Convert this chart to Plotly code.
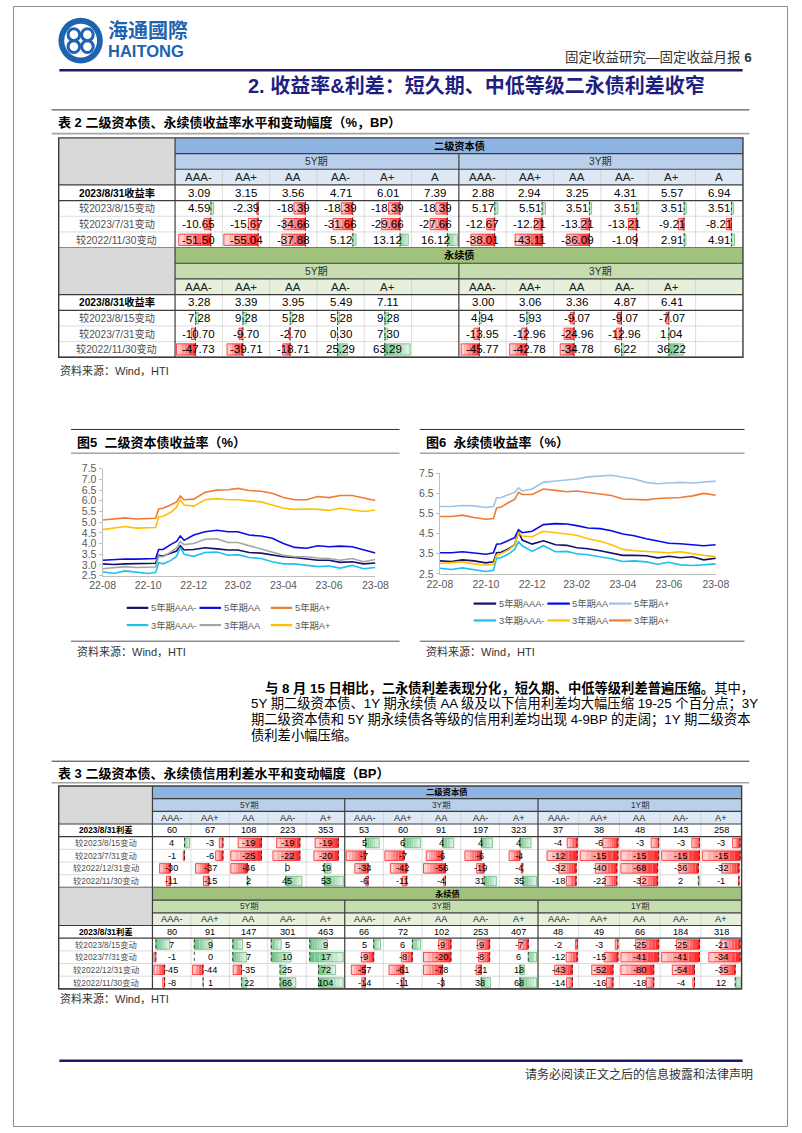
import plotly.graph_objects as go

W, H = 802, 1133
FONT = "Liberation Sans, Arial, Noto Sans CJK SC, sans-serif"

# ------------------------------------------------------------------ chart data
DATES = ["2022-08-31", "2022-09-15", "2022-09-30", "2022-10-15", "2022-10-31",
         "2022-11-10", "2022-11-14", "2022-11-20", "2022-11-30", "2022-12-08",
         "2022-12-13", "2022-12-18", "2022-12-31", "2023-01-15", "2023-01-31",
         "2023-02-15", "2023-02-28", "2023-03-15", "2023-03-31", "2023-04-15",
         "2023-04-30", "2023-05-15", "2023-05-31", "2023-06-15", "2023-06-30",
         "2023-07-15", "2023-07-31", "2023-08-15", "2023-08-31"]
TICK_DATES = ["2022-08-31", "2022-10-31", "2022-12-31", "2023-02-28",
              "2023-04-30", "2023-06-30", "2023-08-31"]
TICK_TEXT = ["22-08", "22-10", "22-12", "23-02", "23-04", "23-06", "23-08"]

SERIES_NAMES = ["5年期AAA-", "5年期AA", "5年期A+", "3年期AAA-", "3年期AA", "3年期A+"]

# Fig 5: tier-2 capital bond yields (%)
F5_5Y_AAA = [3.05, 3.02, 3.05, 3.05, 3.05, 3.08, 3.45, 3.42, 3.55, 3.65, 3.90, 3.70, 3.72, 3.80, 3.75,
             3.70, 3.70, 3.58, 3.55, 3.45, 3.38, 3.35, 3.30, 3.22, 3.22, 3.12, 3.15, 3.05, 3.09]
F5_5Y_AA = [3.22, 3.25, 3.28, 3.27, 3.28, 3.30, 3.72, 3.72, 3.95, 4.10, 4.35, 4.15, 4.40, 4.55, 4.62,
            4.55, 4.55, 4.40, 4.35, 4.25, 4.00, 3.82, 3.78, 3.90, 3.85, 3.88, 3.85, 3.70, 3.56]
F5_5Y_AP = [5.10, 5.15, 5.20, 5.15, 5.15, 5.18, 5.62, 5.65, 5.80, 5.95, 6.22, 6.05, 6.08, 6.40, 6.50,
            6.52, 6.58, 6.48, 6.45, 6.35, 6.15, 6.05, 6.05, 6.20, 6.15, 6.25, 6.25, 6.12, 6.01]
F5_3Y_AAA = [2.68, 2.60, 2.72, 2.65, 2.60, 2.65, 3.10, 3.05, 3.20, 3.40, 3.82, 3.50, 3.40, 3.58, 3.60,
             3.45, 3.48, 3.35, 3.30, 3.15, 3.05, 3.05, 3.00, 2.92, 2.95, 2.85, 2.98, 2.82, 2.88]
F5_3Y_AA = [2.82, 2.88, 2.92, 2.88, 2.88, 2.90, 3.40, 3.38, 3.60, 3.80, 4.10, 3.95, 4.00, 4.20, 4.22,
            4.05, 4.05, 3.90, 3.75, 3.60, 3.45, 3.38, 3.38, 3.32, 3.30, 3.22, 3.30, 3.15, 3.25]
F5_3Y_AP = [4.65, 4.72, 4.80, 4.72, 4.72, 4.75, 5.25, 5.28, 5.45, 5.70, 6.05, 5.80, 5.75, 6.05, 6.10,
            6.05, 6.05, 6.00, 5.95, 5.80, 5.65, 5.60, 5.62, 5.60, 5.55, 5.65, 5.58, 5.50, 5.57]

# Fig 6: perpetual bond yields (%)
F6_5Y_AAA = [3.15, 3.12, 3.20, 3.15, 3.05, 3.10, 3.55, 3.58, 3.75, 3.95, 4.60, 4.18, 3.98, 4.15, 3.95,
             3.92, 3.80, 3.75, 3.65, 3.55, 3.42, 3.42, 3.40, 3.30, 3.38, 3.30, 3.35, 3.20, 3.28]
F6_5Y_AA = [3.55, 3.55, 3.60, 3.55, 3.48, 3.55, 3.98, 4.00, 4.15, 4.30, 4.70, 4.55, 4.62, 4.95, 5.00,
            4.98, 4.90, 4.78, 4.75, 4.65, 4.48, 4.40, 4.25, 4.12, 4.02, 4.00, 3.95, 3.90, 3.95]
F6_5Y_AP = [5.85, 5.85, 5.90, 5.88, 5.80, 5.85, 6.28, 6.30, 6.45, 6.55, 6.78, 6.62, 6.72, 7.05, 7.12,
            7.18, 7.22, 7.32, 7.35, 7.40, 7.30, 7.22, 7.05, 6.98, 7.02, 7.05, 7.02, 7.05, 7.11]
F6_3Y_AAA = [2.78, 2.72, 2.80, 2.72, 2.62, 2.68, 3.28, 3.30, 3.50, 3.72, 4.10, 3.90, 3.62, 3.90, 3.60,
             3.62, 3.50, 3.45, 3.35, 3.25, 3.12, 3.15, 3.10, 2.98, 3.08, 2.95, 2.92, 2.95, 3.00]
F6_3Y_AA = [3.02, 3.05, 3.10, 3.00, 2.93, 2.98, 3.45, 3.50, 3.70, 3.95, 4.55, 4.38, 4.35, 4.62, 4.55,
            4.45, 4.42, 4.25, 4.12, 3.95, 3.72, 3.65, 3.62, 3.60, 3.55, 3.60, 3.50, 3.42, 3.36]
F6_3Y_AP = [5.35, 5.35, 5.42, 5.30, 5.22, 5.25, 5.78, 5.82, 6.05, 6.20, 6.55, 6.45, 6.45, 6.72, 6.65,
            6.58, 6.62, 6.55, 6.50, 6.40, 6.22, 6.20, 6.18, 6.25, 6.28, 6.30, 6.38, 6.50, 6.41]

F5_COLORS = ["#10106e", "#0a0ae6", "#ed7d31", "#1fbff0", "#a5a5a5", "#ffc000"]
F6_COLORS = ["#10106e", "#0a0ae6", "#9dc3e6", "#1fbff0", "#ffc000", "#ed7d31"]

# ------------------------------------------------------------------ table 2 data
T2_GROUPS = ["5Y期", "3Y期"]
T2_GRADES_TIER2 = ["AAA-", "AA+", "AA", "AA-", "A+", "A"]
T2_GRADES_PERP = ["AAA-", "AA+", "AA", "AA-", "A+"]
T2_ROW_LABELS = ["2023/8/31收益率", "较2023/8/15变动", "较2023/7/31变动", "较2022/11/30变动"]
T2_TIER2_5Y = [[3.09, 3.15, 3.56, 4.71, 6.01, 7.39],
               [4.59, -2.39, -18.39, -18.39, -18.39, -18.39],
               [-10.65, -15.67, -34.66, -31.66, -29.66, -27.66],
               [-51.50, -55.04, -37.88, 5.12, 13.12, 16.12]]
T2_TIER2_3Y = [[2.88, 2.94, 3.25, 4.31, 5.57, 6.94],
               [5.17, 5.51, 3.51, 3.51, 3.51, 3.51],
               [-12.67, -12.21, -13.21, -13.21, -9.21, -8.21],
               [-38.01, -43.11, -36.09, -1.09, 2.91, 4.91]]
T2_PERP_5Y = [[3.28, 3.39, 3.95, 5.49, 7.11],
              [7.28, 9.28, 5.28, 5.28, 9.28],
              [-10.70, -9.70, -2.70, 0.30, 7.30],
              [-47.73, -39.71, -18.71, 25.29, 63.29]]
T2_PERP_3Y = [[3.00, 3.06, 3.36, 4.87, 6.41],
              [4.94, 5.93, -9.07, -9.07, -7.07],
              [-13.95, -12.96, -24.96, -12.96, 1.04],
              [-45.77, -42.78, -34.78, 6.22, 36.22]]

# ------------------------------------------------------------------ table 3 data
T3_GROUPS = ["5Y期", "3Y期", "1Y期"]
T3_GRADES = ["AAA-", "AA+", "AA", "AA-", "A+"]
T3_ROW_LABELS = ["2023/8/31利差", "较2023/8/15变动", "较2023/7/31变动", "较2022/12/31变动", "较2022/11/30变动"]
T3_TIER2_5Y = [[60, 67, 108, 223, 353], [4, -3, -19, -19, -19], [-1, -6, -25, -22, -20],
               [-30, -37, -46, 0, 19], [-11, -15, 2, 45, 53]]
T3_TIER2_3Y = [[53, 60, 91, 197, 323], [5, 6, 4, 4, 4], [-7, -7, -6, -6, -4],
               [-34, -42, -56, -19, -4], [-6, -11, -4, 31, 35]]
T3_TIER2_1Y = [[37, 38, 48, 143, 258], [-4, -6, -3, -3, -3], [-12, -15, -15, -15, -15],
               [-32, -40, -68, -36, -32], [-18, -22, -32, 2, -1]]
T3_PERP_5Y = [[80, 91, 147, 301, 463], [7, 9, 5, 5, 9], [-1, 0, 7, 10, 17],
              [-45, -44, -35, 25, 72], [-8, 1, 22, 66, 104]]
T3_PERP_3Y = [[66, 72, 102, 253, 407], [5, 6, -9, -9, -7], [-9, -8, -20, -8, 6],
              [-57, -61, -78, -21, 18], [-14, -11, -3, 38, 68]]
T3_PERP_1Y = [[48, 49, 66, 184, 318], [-2, -3, -25, -25, -21], [-12, -15, -41, -41, -34],
              [-43, -52, -80, -54, -35], [-14, -16, -18, -4, 12]]

# ------------------------------------------------------------------ helpers
shapes, annos = [], []


def X(x):
    return x / W


def Y(y):
    return 1 - y / H


def rect(x0, y0, x1, y1, fill, lc=None, lw=0):
    shapes.append(dict(type="rect", xref="paper", yref="paper", x0=X(x0), x1=X(x1),
                       y0=Y(y1), y1=Y(y0), fillcolor=fill,
                       line=dict(color=lc if lc else "rgba(0,0,0,0)", width=lw)))


def line(x0, y0, x1, y1, color, width=1.0, dash="solid"):
    shapes.append(dict(type="line", xref="paper", yref="paper", x0=X(x0), y0=Y(y0),
                       x1=X(x1), y1=Y(y1), line=dict(color=color, width=width, dash=dash)))


def text(x, y, s, size=11, color="#000000", xanchor="center", yanchor="middle"):
    annos.append(dict(xref="paper", yref="paper", x=X(x), y=Y(y), text=s, showarrow=False,
                      xanchor=xanchor, yanchor=yanchor, borderpad=0,
                      font=dict(size=size, color=color, family=FONT)))


def hx(c):
    c = c.lstrip("#")
    return [int(c[i:i + 2], 16) for i in (0, 2, 4)]


def mix(c1, c2, t):
    a, b = hx(c1), hx(c2)
    return "#%02x%02x%02x" % tuple(int(round(a[i] + (b[i] - a[i]) * t)) for i in range(3))


RED, RED_L = "#ff1f1f", "#ffdede"
GRN, GRN_L = "#63be7b", "#e4f3e8"


def data_bar(cx0, cy0, cx1, cy1, v, lo, hi, pady):
    ix0, ix1 = cx0 + 1.5, cx1 - 1.5
    wi = ix1 - ix0
    ax = ix0 + (-lo) / (hi - lo) * wi
    if v != 0:
        ln = v / (hi - lo) * wi
        strong, light = (RED, RED_L) if v < 0 else (GRN, GRN_L)
        n = 7
        for k in range(n):
            xa = ax + ln * k / n
            xb = ax + ln * (k + 1) / n
            rect(min(xa, xb), cy0 + pady, max(xa, xb), cy1 - pady, mix(strong, light, (k + 0.5) / n))
        rect(min(ax, ax + ln), cy0 + pady, max(ax, ax + ln), cy1 - pady, "rgba(0,0,0,0)", strong, 0.8)
    line(ax, cy0 + 1, ax, cy1 - 1, "#202020", 0.8, "dot")


BLUE = dict(band="#8db3e2", group="#b9cfea", grade="#dde8f4")
GREEN = dict(band="#a0c27c", group="#c6ddb0", grade="#e6f0dc")
GRAY = "#d9d9d9"
DARK, MINOR = "#3c3c3c", "#c4c4c4"


def draw_table(x0, label_w, group_names, group_widths, ncols, y0, row_h, sections,
               fs, fs_lab, fmt, scope, blocks, pady):
    dx0 = x0 + label_w
    dx1 = dx0 + sum(group_widths)
    y = y0
    for sec in sections:
        pal = sec["pal"]
        rows = sec["rows_labels"]
        nrows = 3 + len(rows)
        ye = y + nrows * row_h
        rect(x0, y, dx0, y + 3 * row_h, GRAY)
        rect(dx0, y, dx1, y + row_h, pal["band"])
        text((dx0 + dx1) / 2, y + row_h / 2, "<b>" + sec["name"] + "</b>", fs_lab, "#000000")
        for ri, lab in enumerate(rows):
            yc = y + (3 + ri + 0.5) * row_h
            if ri == 0:
                text((x0 + dx0) / 2, yc, "<b>" + lab + "</b>", fs_lab, "#000000")
            else:
                text((x0 + dx0) / 2, yc, lab, fs_lab, "#505050")
        gx = dx0
        for g, gw in enumerate(group_widths):
            cw = gw / ncols
            rect(gx, y + row_h, gx + gw, y + 2 * row_h, pal["group"])
            text(gx + gw / 2, y + 1.5 * row_h, group_names[g], fs_lab, "#303030")
            rect(gx, y + 2 * row_h, gx + gw, y + 3 * row_h, pal["grade"])
            for c, gr in enumerate(sec["grades"]):
                text(gx + (c + 0.5) * cw, y + 2.5 * row_h, gr, fs, "#202020")
            for ri, rowv in enumerate(sec["data"][g]):
                for c, v in enumerate(rowv):
                    text(gx + (c + 0.5) * cw, y + (3 + ri + 0.5) * row_h, fmt(v), fs, "#000000")
            gx += gw
        # data bars
        for blk in blocks:
            glist = [list(range(len(group_widths)))] if scope == "section" else [[g] for g in range(len(group_widths))]
            for gs in glist:
                vals = [v for g in gs for ri in blk for v in sec["data"][g][ri]]
                lo, hi = min(0, min(vals)), max(0, max(vals))
                for g in gs:
                    gxs = dx0 + sum(group_widths[:g])
                    cw = group_widths[g] / ncols
                    for ri in blk:
                        for c, v in enumerate(sec["data"][g][ri]):
                            cy0 = y + (3 + ri) * row_h
                            data_bar(gxs + c * cw, cy0, gxs + (c + 1) * cw, cy0 + row_h, v, lo, hi, pady)
        # minor lines
        for ri in range(5, nrows):
            line(x0, y + ri * row_h, dx1, y + ri * row_h, MINOR, 0.6)
        gx = dx0
        for g, gw in enumerate(group_widths):
            cw = gw / ncols
            for c in range(1, ncols):
                line(gx + c * cw, y + 2 * row_h, gx + c * cw, ye, MINOR, 0.6)
            gx += gw
        # major lines
        line(dx0, y + row_h, dx1, y + row_h, DARK, 1.2)
        line(dx0, y + 2 * row_h, dx1, y + 2 * row_h, DARK, 1.2)
        line(x0, y + 3 * row_h, dx1, y + 3 * row_h, DARK, 1.2)
        line(x0, y + 4 * row_h, dx1, y + 4 * row_h, DARK, 1.2)
        line(dx0, y, dx0, ye, DARK, 1.2)
        gx = dx0
        for gw in group_widths[:-1]:
            gx += gw
            line(gx, y + row_h, gx, ye, DARK, 1.2)
        line(x0, ye, dx1, ye, DARK, 1.2)
        y = ye
    rect(x0, y0, dx1, y, "rgba(0,0,0,0)", DARK, 1.4)


# ------------------------------------------------------------------ page furniture
rect(0.5, 0.5, 801.5, 1132.5, "rgba(0,0,0,0)", "#8c8c8c", 1)
LOGO = "#1e63b0"
shapes.append(dict(type="circle", xref="paper", yref="paper", x0=X(47), x1=X(93), y0=Y(58), y1=Y(12),
                   fillcolor=LOGO, line=dict(color=LOGO, width=0)))
shapes.append(dict(type="circle", xref="paper", yref="paper", x0=X(53), x1=X(87), y0=Y(52), y1=Y(18),
                   fillcolor="white", line=dict(color="white", width=0)))
for cx, cy in [(63, 29), (77, 29), (63, 41), (77, 41)]:
    shapes.append(dict(type="circle", xref="paper", yref="paper", x0=X(cx - 6), x1=X(cx + 6),
                       y0=Y(cy + 6), y1=Y(cy - 6), fillcolor="rgba(0,0,0,0)",
                       line=dict(color=LOGO, width=3)))
text(97, 25, "<b>海通國際</b>", 20, LOGO, "left")
text(97, 45, "<b>HAITONG</b>", 16.5, LOGO, "left")
text(766, 52, "固定收益研究—固定收益月报 <b>6</b>", 13.5, "#333333", "right")
line(48, 65, 755, 65, "#1c1a6e", 2.6)
text(717, 80, "<b>2. 收益率&利差：短久期、中低等级二永债利差收窄</b>", 20, "#1f1f82", "right")

# table 2
line(40, 105, 762, 105, "#333333", 1)
text(46, 118, "<b>表 2 二级资本债、永续债收益率水平和变动幅度（%，BP）</b>", 13, "#000000", "left")
line(40, 129, 762, 129, "#a6a6a6", 1.6)
draw_table(47.3, 120.4, T2_GROUPS, [293.7, 294.0], 6, 133.3, 15.84,
           [dict(name="二级资本债", pal=BLUE, grades=T2_GRADES_TIER2, rows_labels=T2_ROW_LABELS,
                 data=[T2_TIER2_5Y, T2_TIER2_3Y]),
            dict(name="永续债", pal=GREEN, grades=T2_GRADES_PERP, rows_labels=T2_ROW_LABELS,
                 data=[T2_PERP_5Y, T2_PERP_3Y])],
           11.5, 10.2, lambda v: "%.2f" % v, "section", [[1, 2, 3]], 2.2)
text(48, 368, "资料来源：Wind，HTI", 11, "#333333", "left")

# chart blocks
for (bx0, bx1, ttl) in [(60, 400, "<b>图5  二级资本债收益率（%）</b>"), (421, 757, "<b>图6  永续债收益率（%）</b>")]:
    line(bx0, 428, bx1, 428, "#333333", 1)
    text(bx0 + 5, 441, ttl, 13, "#000000", "left")
    line(bx0, 452, bx1, 452, "#a6a6a6", 1.6)
    line(bx0, 642, bx1, 642, "#555555", 1)
    text(bx0 + 5, 652, "资料来源：Wind，HTI", 11, "#333333", "left")


def legend(cols, rows_y, seg, colors):
    k = 0
    for ry in rows_y:
        for cx in cols:
            line(cx, ry, cx + seg, ry, colors[k], 2.2)
            text(cx + seg + 1.5, ry, SERIES_NAMES[k], 9.3, "#595959", "left")
            k += 1


legend([117.7, 193.0, 266.7], [608.3, 625.7], 22.3, F5_COLORS)
legend([476.7, 553.0, 616.7], [604.0, 621.0], 23.3, F6_COLORS)

# paragraph
PARA = ["<b>与 8 月 15 日相比，二永债利差表现分化，短久期、中低等级利差普遍压缩。</b>其中，",
        "5Y 期二级资本债、1Y 期永续债 AA 级及以下信用利差均大幅压缩 19-25 个百分点；3Y",
        "期二级资本债和 5Y 期永续债各等级的信用利差均出现 4-9BP 的走阔；1Y 期二级资本",
        "债利差小幅压缩。"]
for i, s in enumerate(PARA):
    text(260 if i == 0 else 245, 689 + i * 16, s, 13.3, "#000000", "left")

# table 3
line(40, 763.3, 762, 763.3, "#333333", 1)
text(46, 776, "<b>表 3 二级资本债、永续债信用利差水平和变动幅度（BP）</b>", 13, "#000000", "left")
line(40, 785, 762, 785, "#a6a6a6", 1.6)
draw_table(47.3, 97.0, T3_GROUPS, [199.0, 200.0, 210.7], 5, 788.3, 12.82,
           [dict(name="二级资本债", pal=BLUE, grades=T3_GRADES, rows_labels=T3_ROW_LABELS,
                 data=[T3_TIER2_5Y, T3_TIER2_3Y, T3_TIER2_1Y]),
            dict(name="永续债", pal=GREEN, grades=T3_GRADES, rows_labels=T3_ROW_LABELS,
                 data=[T3_PERP_5Y, T3_PERP_3Y, T3_PERP_1Y])],
           9.2, 8.3, lambda v: "%d" % v, "group", [[1, 2], [3, 4]], 1.6)
text(48, 1003, "资料来源：Wind，HTI", 11, "#333333", "left")

# footer
line(48, 1066, 755, 1066, "#1c1a6e", 2.6)
text(767, 1080, "请务必阅读正文之后的信息披露和法律声明", 12, "#333333", "right")

# ------------------------------------------------------------------ chart traces
fig = go.Figure()
for name, vals, col in zip(SERIES_NAMES, [F5_5Y_AAA, F5_5Y_AA, F5_5Y_AP, F5_3Y_AAA, F5_3Y_AA, F5_3Y_AP], F5_COLORS):
    fig.add_trace(go.Scatter(x=DATES, y=vals, mode="lines", name=name, line=dict(color=col, width=1.6),
                             xaxis="x", yaxis="y", showlegend=False, hoverinfo="skip"))
for name, vals, col in zip(SERIES_NAMES, [F6_5Y_AAA, F6_5Y_AA, F6_5Y_AP, F6_3Y_AAA, F6_3Y_AA, F6_3Y_AP], F6_COLORS):
    fig.add_trace(go.Scatter(x=DATES, y=vals, mode="lines", name=name, line=dict(color=col, width=1.6),
                             xaxis="x2", yaxis="y2", showlegend=False, hoverinfo="skip"))

TICKFONT = dict(size=10.5, color="#595959", family=FONT)
xcommon = dict(type="date", range=[DATES[0], DATES[-1]], tickvals=TICK_DATES, ticktext=TICK_TEXT,
               showgrid=False, zeroline=False, showline=True, linecolor="#bfbfbf", linewidth=1,
               ticks="", tickfont=TICKFONT, fixedrange=True)
ycommon = dict(range=[2.5, 7.5], tick0=2.5, tickformat=".1f", showgrid=False, zeroline=False,
               showline=True, linecolor="#bfbfbf", linewidth=1, ticks="outside", ticklen=3,
               tickcolor="#bfbfbf", tickfont=TICKFONT, fixedrange=True)

fig.update_layout(
    width=W, height=H, margin=dict(l=0, r=0, t=0, b=0),
    paper_bgcolor="white", plot_bgcolor="white", showlegend=False,
    font=dict(family=FONT),
    xaxis=dict(domain=[X(92.7), X(375.0)], anchor="y", **xcommon),
    yaxis=dict(domain=[Y(575.7), Y(467.7)], anchor="x", dtick=0.5, **ycommon),
    xaxis2=dict(domain=[X(441.7), X(727.3)], anchor="y2", **xcommon),
    yaxis2=dict(domain=[Y(574.0), Y(472.3)], anchor="x2", dtick=1.0, **ycommon),
    shapes=shapes, annotations=annos,
)

fig.write_html("out.html", config={"displayModeBar": False},
               post_script="document.body.style.margin='0';document.body.style.overflow='hidden';")
